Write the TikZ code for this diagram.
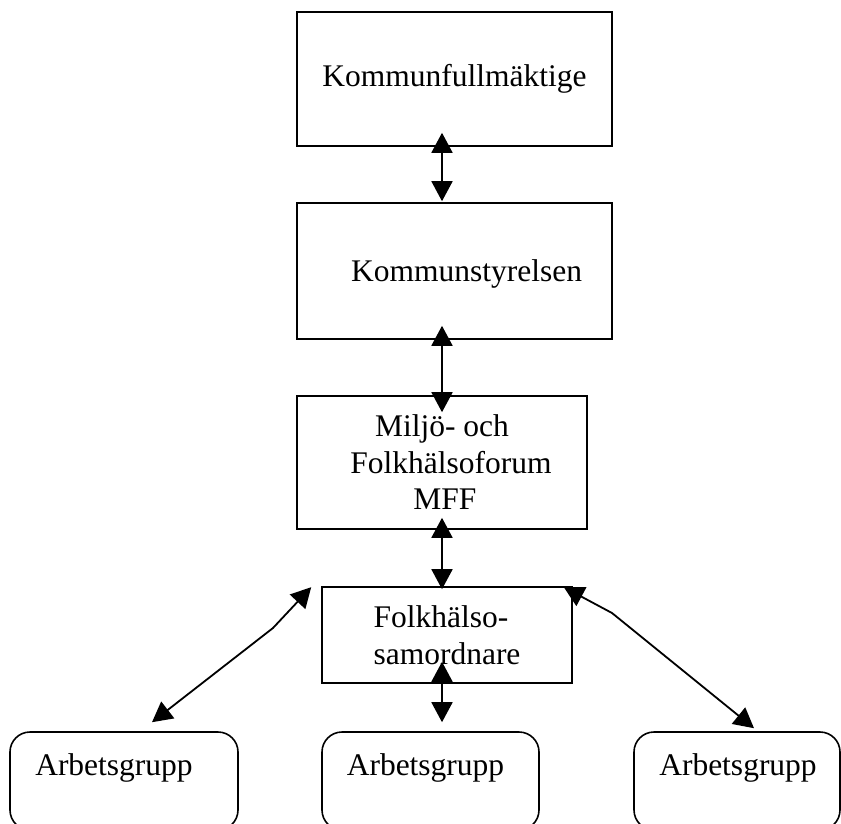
\documentclass[tikz,border=0pt]{standalone}
\usepackage{fontspec}
\setmainfont{Liberation Serif}
\usetikzlibrary{arrows.meta}
\begin{document}
\begin{tikzpicture}[x=1pt,y=-1pt,
  box/.style={draw=black,line width=1.6pt,inner sep=0pt,font=\fontsize{31.5}{36.5}\selectfont},
  rbox/.style={box,rounded corners=20pt},
  lbl/.style={inner sep=0pt,anchor=base,font=\fontsize{31.5}{36.5}\selectfont},
  conn/.style={line width=1.8pt,{Triangle[length=20pt,width=21pt]}-{Triangle[length=20pt,width=21pt]}}]
\useasboundingbox (0,0) rectangle (841,823);
\clip (0,0) rectangle (841,823);
% boxes
\node[box,minimum width=315pt,minimum height=134pt] (k1) at (454.5,79) {Kommunfullmäktige};
\node[box,minimum width=315pt,minimum height=136pt] (k2) at (454.5,271) {};
\node[lbl] (t0) at (466.5,281) {Kommunstyrelsen};
\node[box,minimum width=290pt,minimum height=133pt,align=center] (k3) at (442,462.5)
  {Miljö- och\\\hspace*{18pt}Folkhälsoforum\\\hspace*{6pt}MFF};
\node[box,minimum width=250pt,minimum height=96pt,align=left] (k4) at (447,635)
  {Folkhälso-\\samordnare};
\node[rbox,minimum width=228pt,minimum height=98pt] (a1) at (124,781) {};
\node[rbox,minimum width=217pt,minimum height=98pt] (a2) at (430.5,781) {};
\node[rbox,minimum width=206pt,minimum height=98pt] (a3) at (737,781) {};
\node[lbl] (t1) at (114,775) {Arbetsgrupp};
\node[lbl] (t2) at (425.5,775) {Arbetsgrupp};
\node[lbl] (t3) at (738,775) {Arbetsgrupp};
% elbows
\coordinate (el) at (273,628);
\coordinate (er) at (612,613);
% connectors
\draw[conn] ([xshift=-12.5pt,yshift=14pt]k1.south) -- ([xshift=-12.5pt,yshift=1pt]k2.north);
\draw[conn] ([xshift=-12.5pt,yshift=14pt]k2.south) -- ([yshift=-17pt]k3.north);
\draw[conn] ([yshift=12pt]k3.south) -- ([xshift=-5pt,yshift=-3pt]k4.north);
\draw[conn] ([xshift=-5pt,yshift=22pt]k4.south) -- ([xshift=11.5pt,yshift=9pt]a2.north);
\draw[conn] ([xshift=-10pt,yshift=-1pt]k4.north west) -- (el) -- ([xshift=28pt,yshift=9pt]a1.north);
\draw[conn] ([xshift=-9pt,yshift=-1pt]k4.north east) -- (er) -- ([xshift=17pt,yshift=3pt]a3.north);
\end{tikzpicture}
\end{document}
